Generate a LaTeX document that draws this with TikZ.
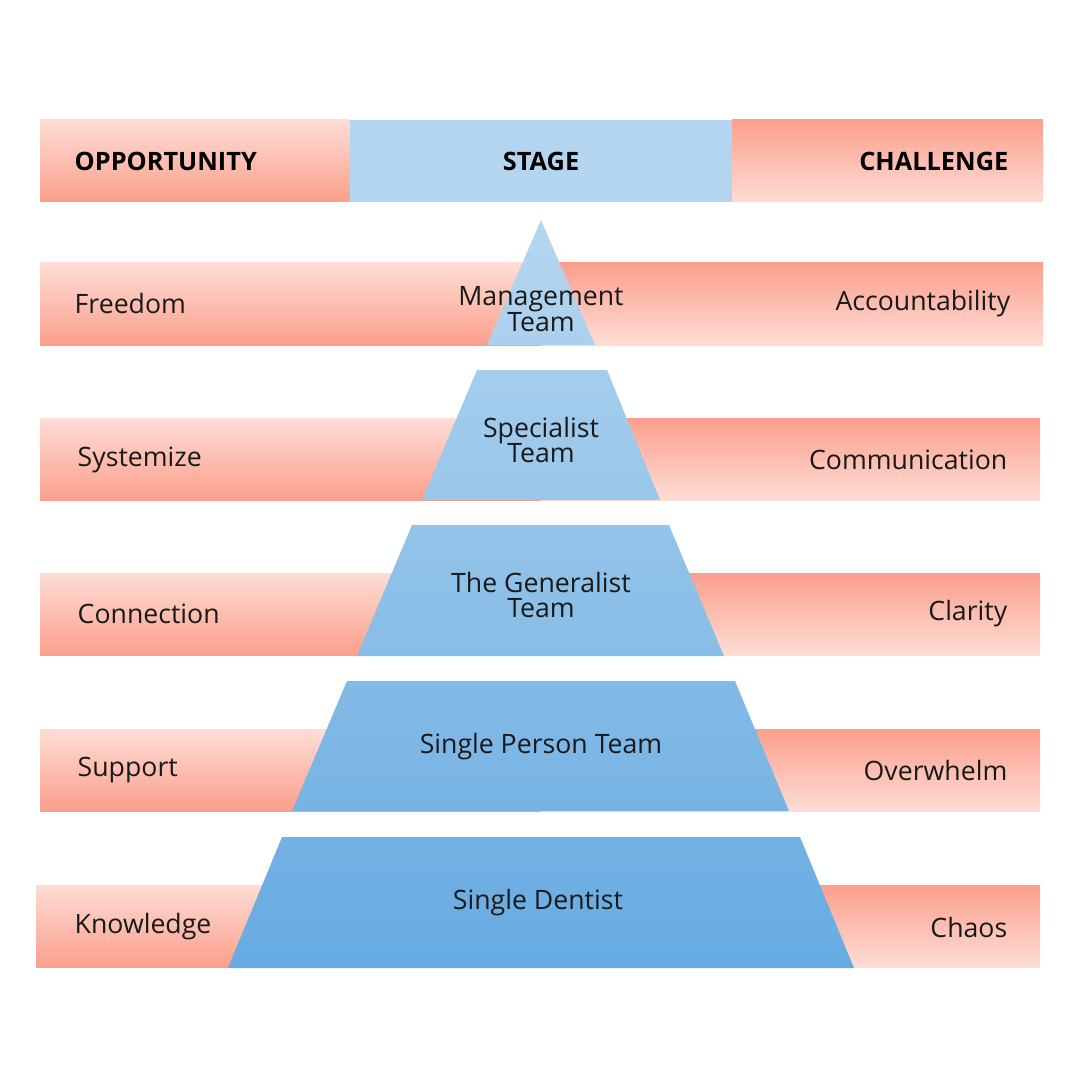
\documentclass[tikz,border=0pt]{standalone}
\usepackage{fontspec}
\setmainfont{Open Sans}
\definecolor{pl}{HTML}{FEDDD5}
\definecolor{pd}{HTML}{FB9F8C}
\definecolor{hb}{HTML}{B3D5F0}
\begin{document}
\begin{tikzpicture}[x=0.75pt,y=-0.75pt,
  lbar/.style={top color=pl,bottom color=pd,draw=none},
  rbar/.style={top color=pd,bottom color=pl,draw=none},
  lab/.style={font=\fontsize{20}{22}\selectfont,text=black!90},
  hd/.style={font=\bfseries\fontsize{19}{22}\selectfont,text=black}]
\useasboundingbox (0,0) rectangle (1080,1080);
\fill[white] (0,0) rectangle (1080,1080);
% header
\shade[lbar] (40,120) rectangle (350,202);
\fill[hb] (350,120) rectangle (732,202);
\shade[rbar] (732,120) rectangle (1043,202);
\node[hd,anchor=west] (hopp) at (70,161) {OPPORTUNITY};
\node[hd] (hst) at (541,161) {STAGE};
\node[hd,anchor=east] (hch) at (1013,161) {CHALLENGE};
% bars
\shade[lbar] (40,263) rectangle (541,345); \shade[rbar] (541,263) rectangle (1043,345);
\shade[lbar] (40,418) rectangle (541,500); \shade[rbar] (541,418) rectangle (1040,500);
\shade[lbar] (40,573) rectangle (541,655); \shade[rbar] (541,573) rectangle (1040,655);
\shade[lbar] (40,729) rectangle (541,811); \shade[rbar] (541,729) rectangle (1040,811);
\shade[lbar] (36,885) rectangle (541,967); \shade[rbar] (541,885) rectangle (1040,967);
% pyramid
\shade[top color={rgb,255:red,181;green,214;blue,241},bottom color={rgb,255:red,170;green,208;blue,238}]
  (541,220) -- (595,345) -- (487,345) -- cycle;
\shade[top color={rgb,255:red,165;green,205;blue,237},bottom color={rgb,255:red,152;green,198;blue,234}]
  (477,370) -- (607,370) -- (660,500) -- (422,500) -- cycle;
\shade[top color={rgb,255:red,148;green,196;blue,233},bottom color={rgb,255:red,135;green,189;blue,231}]
  (412,525) -- (669,525) -- (724,656) -- (357,656) -- cycle;
\shade[top color={rgb,255:red,131;green,186;blue,230},bottom color={rgb,255:red,119;green,180;blue,228}]
  (347,681) -- (735,681) -- (789,811) -- (292,811) -- cycle;
\shade[top color={rgb,255:red,115;green,177;blue,227},bottom color={rgb,255:red,101;green,171;blue,226}]
  (282,837) -- (800,837) -- (854,968) -- (228,968) -- cycle;
% texts
\node[lab,align=center] (s1) at (541,309) {Management\\[-3pt]Team};
\node[lab,align=center] (s2) at (541,440) {Specialist\\[-3pt]Team};
\node[lab,align=center] (s3) at (541,595) {The Generalist\\[-3pt]Team};
\node[lab] (s4) at (541,747) {Single Person Team};
\node[lab] (s5) at (538,903) {Single Dentist};
\node[lab,anchor=west] (o1) at (70,304) {Freedom};
\node[lab,anchor=west] (o2) at (73,460) {Systemize};
\node[lab,anchor=west] (o3) at (73,614) {Connection};
\node[lab,anchor=west] (o4) at (73,770) {Support};
\node[lab,anchor=west] (o5) at (70,927) {Knowledge};
\node[lab,anchor=east] (c1) at (1015,304) {Accountability};
\node[lab,anchor=east] (c2) at (1012,460) {Communication};
\node[lab,anchor=east] (c3) at (1012,614) {Clarity};
\node[lab,anchor=east] (c4) at (1012,770) {Overwhelm};
\node[lab,anchor=east] (c5) at (1012,927) {Chaos};
\end{tikzpicture}
\end{document}
